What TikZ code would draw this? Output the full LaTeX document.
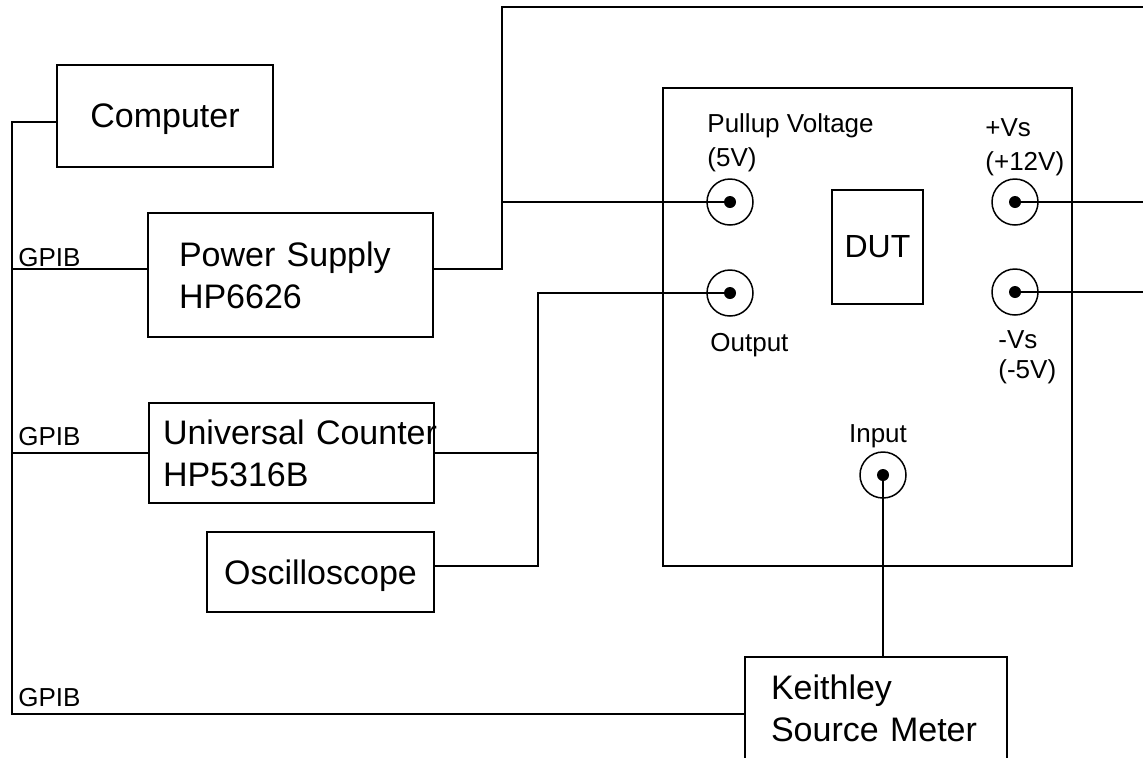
\documentclass[tikz,border=0pt]{standalone}
\usepackage{fontspec}
\setmainfont{Liberation Sans}
\usetikzlibrary{positioning}
\tikzset{
  box/.style={rectangle,draw,line width=1pt,inner sep=0pt,
              font=\fontsize{17}{21}\selectfont},
  jack/.style={circle,draw,line width=0.75pt,minimum size=23pt,inner sep=0pt,
               path picture={\fill (path picture bounding box.center) circle (3pt);}},
  lbl/.style={inner sep=0pt,align=left,font=\fontsize{13}{17}\selectfont},
  wire/.style={line width=1pt},
}
\begin{document}
\begin{tikzpicture}[x=0.5pt,y=-0.5pt]
\useasboundingbox (0,0) rectangle (1143,757);
\clip (0,0) rectangle (1143,757);
% instruments
\node[box,minimum width=108pt,minimum height=51pt,text depth=0pt] (comp) at (165,116) {Computer};
\node[box,minimum width=142.5pt,minimum height=62pt,inner xsep=15.5pt,
      text width=111.5pt,align=left] (psu) at (290.5,275) {Power Supply\\HP6626};
\node[box,minimum width=142.5pt,minimum height=50pt,inner xsep=7pt,
      text width=128.5pt,align=left] (ctr) at (291.5,453) {\mbox{Universal Counter}\\HP5316B};
\node[box,minimum width=113.5pt,minimum height=40pt,text depth=0pt] (osc) at (320.5,572) {Oscilloscope};
\node[box,minimum width=131pt,minimum height=51pt,inner xsep=13pt,
      text width=105pt,align=left] (keith) at (876,708) {Keithley\\Source Meter};
% test fixture
\node[box,minimum width=204.5pt,minimum height=239pt] (fixture) at (867.5,327) {};
\node[box,font=\fontsize{16}{19}\selectfont,minimum width=45.5pt,minimum height=57pt]
  (dut) at (877.5,247) {DUT};
\node[jack] (pullup) at (730,202) {};
\node[jack] (outp) at (730,293) {};
\node[jack] (vsp) at (1015,202) {};
\node[jack] (vsn) at (1015,292) {};
\node[jack] (inp) at (883,475) {};
\node[lbl,anchor=west] (pulluplbl) at (707,143) {Pullup Voltage\\(5V)};
\node[lbl,anchor=west] (vsplbl) at (985,147) {+Vs\\(+12V)};
\node[lbl,anchor=west,font=\fontsize{13}{15}\selectfont] (vsnlbl) at (998,357) {-Vs\\ (-5V)};
\node[lbl,anchor=west] (outlbl) at (710,345) {Output};
\node[lbl] (inlbl) at (878,436) {Input};
\node[lbl,anchor=west] (gpiba) at (18,258) {GPIB};
\node[lbl,anchor=west] (gpibb) at (18,437) {GPIB};
\node[lbl,anchor=west] (gpibc) at (18,698) {GPIB};
% wiring
\coordinate (bustop) at (12,122);
\coordinate (busbot) at (12,714);
\coordinate (gpib1) at (12,269);
\coordinate (jn1) at (502,269);
\coordinate (topl) at (502,7);
\coordinate (topr) at (1143,7);
\coordinate (jn2) at (538,566);
\draw[wire] (bustop -| comp.west) -- (bustop) -- (busbot) -- (busbot -| keith.west);
\draw[wire] (gpib1) -- (gpib1 -| psu.west);
\draw[wire] (ctr.west -| bustop) -- (ctr.west);
\draw[wire] (psu.east |- jn1) -- (jn1) -- (topl) -- (topr);
\draw[wire] (topl |- pullup) -- (pullup.center);
\draw[wire] (vsp.center) -- (vsp -| topr);
\draw[wire] (vsn.center) -- (vsn -| topr);
\draw[wire] (outp.center) -| (jn2) -- (jn2 -| osc.east);
\draw[wire] (ctr.east) -- (ctr.east -| jn2);
\draw[wire] (inp.center) -- (inp |- keith.north);
\end{tikzpicture}
\end{document}
